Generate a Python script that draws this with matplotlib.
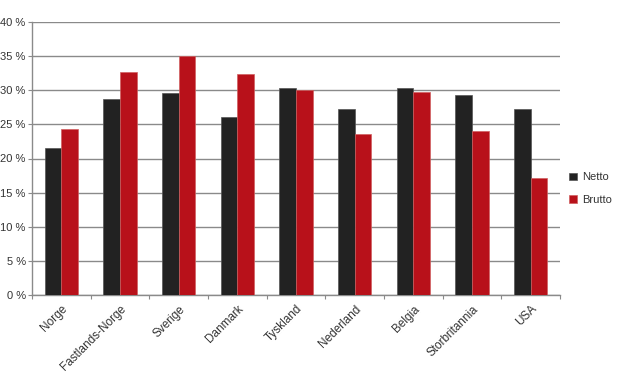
import matplotlib.pyplot as plt
import numpy as np
from matplotlib.ticker import FuncFormatter

countries = ["Norge", "Fastlands-Norge", "Sverige", "Danmark", "Tyskland",
             "Nederland", "Belgia", "Storbritannia", "USA"]
netto = [21.6, 28.8, 29.6, 26.1, 30.3, 27.2, 30.4, 29.3, 27.2]
brutto = [24.4, 32.7, 35.0, 32.4, 30.0, 23.6, 29.8, 24.0, 17.1]


def main():
    plt.rcParams["font.family"] = ["Liberation Sans", "DejaVu Sans"]
    fig = plt.figure(figsize=(6.2, 3.77), dpi=100)
    ax = fig.add_axes([32 / 620, 1 - 294.7 / 377, 528 / 620, (294.7 - 22.3) / 377])

    x = np.arange(len(countries))
    w = 0.285
    ax.bar(x - w / 2, netto, w, color="#222222", edgecolor="#555555",
           linewidth=0.5, label="Netto", zorder=3)
    ax.bar(x + w / 2, brutto, w, color="#b8111a", edgecolor="#d06060",
           linewidth=0.5, label="Brutto", zorder=3)

    ax.set_xlim(-0.5, len(countries) - 0.5)
    ax.set_ylim(0, 40)
    ax.set_yticks(np.arange(0, 41, 5))
    ax.yaxis.set_major_formatter(FuncFormatter(lambda v, p: f"{v:.0f} %"))
    ax.grid(axis="y", color="#8a8a8a", linewidth=1.0, zorder=0)

    # category labels centred on bars, ticks at the boundaries
    ax.set_xticks(np.arange(-0.5, len(countries)), minor=False)
    ax.set_xticklabels([])
    ax.set_xticks(x, minor=True)
    ax.set_xticklabels(countries, minor=True, rotation=45, ha="right",
                       rotation_mode="anchor", fontsize=8.5, color="#333333")
    ax.tick_params(axis="x", which="minor", length=0, pad=6)
    ax.tick_params(axis="x", which="major", length=3, color="#8a8a8a")
    ax.tick_params(axis="y", length=3, color="#8a8a8a", labelsize=8,
                   labelcolor="#333333", pad=1.5)

    for s in ["top", "right"]:
        ax.spines[s].set_visible(False)
    for s in ["left", "bottom"]:
        ax.spines[s].set_color("#8a8a8a")
        ax.spines[s].set_linewidth(1.0)

    ax.legend(loc="center left", bbox_to_anchor=(1.0, 0.39), frameon=False,
              fontsize=8, handlelength=0.7, handleheight=0.7,
              labelspacing=1.1, handletextpad=0.5, borderpad=0.3,
              labelcolor="#333333")

    fig.savefig("out.png", dpi=100)
    plt.close(fig)


if __name__ == "__main__":
    main()
